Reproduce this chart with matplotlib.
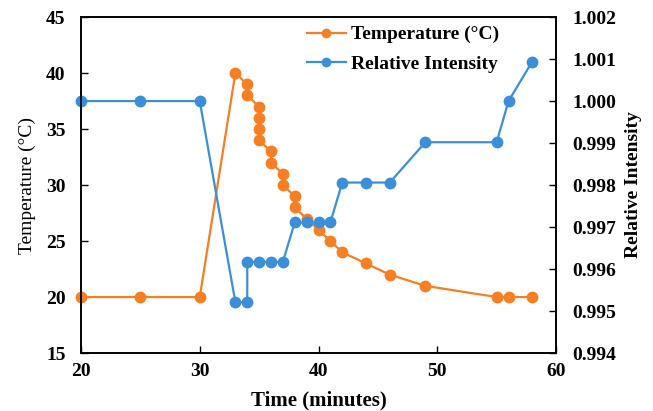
import matplotlib.pyplot as plt
from matplotlib.ticker import FormatStrFormatter

# temperature series (left axis)
t_temp = [20, 25, 30, 33, 34, 34, 35, 35, 35, 35, 36, 36, 37, 37, 38, 38,
          39, 40, 41, 42, 44, 46, 49, 55, 56, 58]
temp = [20, 20, 20, 40, 39, 38, 37, 36, 35, 34, 33, 32, 31, 30, 29, 28,
        27, 26, 25, 24, 23, 22, 21, 20, 20, 20]

# relative intensity series (right axis)
t_int = [20, 25, 30, 33, 34, 34, 35, 36, 37, 38, 39, 40, 41, 42, 44, 46,
         49, 55, 56, 58]
intensity = [1.0, 1.0, 1.0, 0.99521, 0.99521, 0.99617, 0.99617, 0.99617,
             0.99617, 0.99711, 0.99711, 0.99711, 0.99711, 0.99806, 0.99806,
             0.99806, 0.99902, 0.99902, 1.0, 1.00094]

orange = '#F57F22'
blue = '#3B8FD8'

plt.rcParams['font.family'] = ['Liberation Serif', 'DejaVu Serif']
plt.rcParams['font.size'] = 13

fig = plt.figure(figsize=(6.53, 4.11), dpi=100)
ax = fig.add_axes([0.124, 0.141, 0.7275, 0.8175])
ax2 = ax.twinx()

l1, = ax.plot(t_temp, temp, color=orange, marker='o', markersize=7.5,
              linewidth=1.6, label='Temperature (°C)', clip_on=False)
l2, = ax2.plot(t_int, intensity, color=blue, marker='o', markersize=7.5,
               linewidth=1.6, label='Relative Intensity', clip_on=False)

ax.set_xlim(20, 60)
ax.set_ylim(15, 45)
ax2.set_ylim(0.994, 1.002)
ax.set_xticks([20, 30, 40, 50, 60])
ax.set_yticks(range(15, 46, 5))
ax2.set_yticks([0.994 + 0.001 * i for i in range(9)])
ax2.yaxis.set_major_formatter(FormatStrFormatter('%.3f'))

for a in (ax, ax2):
    a.tick_params(direction='in', length=5, width=1, labelsize=14, pad=12)
    for lab in a.get_xticklabels() + a.get_yticklabels():
        lab.set_fontweight('bold')
    for s in a.spines.values():
        s.set_linewidth(1.2)
ax.tick_params(axis='y', pad=11)
ax.tick_params(axis='x', pad=7)

ax.set_xlabel('Time (minutes)', fontweight='bold', fontsize=15, labelpad=8)
ax.set_ylabel('Temperature (°C)', fontsize=14, labelpad=7)
ax2.set_ylabel('Relative Intensity', fontweight='bold', fontsize=14, labelpad=6)

leg = fig.legend(handles=[l1, l2], loc='upper left',
                 bbox_to_anchor=(0.443, 0.98), frameon=False,
                 prop={'weight': 'bold', 'size': 14},
                 handlelength=2.0, handletextpad=0.25, labelspacing=0.6)
for h in leg.legend_handles:
    h.set_markersize(6)

plt.savefig('out.png', dpi=100)
